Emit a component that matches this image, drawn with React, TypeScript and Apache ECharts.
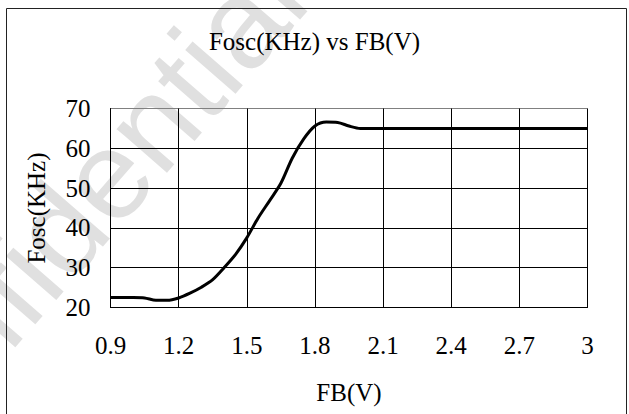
import React, { useEffect, useRef } from "react";
import * as echarts from "echarts";

const titleText = "Fosc(KHz) vs FB(V)";
const xName = "FB(V)";
const yName = "Fosc(KHz)";
const watermark = "Confidential";

const fbVolts = [0.9, 1.0, 1.05, 1.1, 1.15, 1.2, 1.25, 1.3, 1.35, 1.4, 1.45, 1.5, 1.55, 1.6, 1.65, 1.7, 1.75, 1.8, 1.85, 1.9, 1.95, 2.0, 2.5, 3.0];
const foscKHz = [22.5, 22.5, 22.4, 21.8, 21.8, 22.4, 23.6, 25.1, 27.0, 30.0, 33.3, 37.5, 42.5, 46.8, 51.2, 57.5, 62.3, 65.6, 66.6, 66.5, 65.6, 65.0, 65.0, 65.0];

const xTicks = [0.9, 1.2, 1.5, 1.8, 2.1, 2.4, 2.7, 3.0];
const yTicks = [20, 30, 40, 50, 60, 70];

const SERIF = "'Liberation Serif', 'Times New Roman', serif";

export default function App() {
  const ref = useRef<HTMLDivElement>(null);
  useEffect(() => {
    if (!ref.current) return;
    const chart = echarts.init(ref.current, undefined, { renderer: "svg" });
    const data = fbVolts.map((x, i) => [x, foscKHz[i]]);
    chart.setOption({
      animation: false,
      backgroundColor: "#fff",
      title: {
        text: titleText,
        left: "center",
        top: 24,
        textStyle: { fontFamily: SERIF, fontSize: 25, fontWeight: "normal", color: "#000" },
      },
      graphic: [
        {
          type: "text",
          x: -109,
          y: 520,
          rotation: 0.855,
          z: -10,
          silent: true,
          style: {
            text: watermark,
            font: "126px 'Liberation Sans', Arial, sans-serif",
            fill: "#e0e0e0",
            verticalAlign: "bottom",
            align: "left",
          },
        },
        {
          type: "rect",
          z: 10,
          silent: true,
          shape: { x: 6.5, y: 8.5, width: 620, height: 420 },
          style: { fill: "none", stroke: "#222", lineWidth: 1 },
        },
      ],
      grid: { left: 110.5, right: 41.5, top: 108.5, bottom: 106.5, containLabel: false },
      xAxis: {
        type: "value",
        min: xTicks[0],
        max: xTicks[xTicks.length - 1],
        interval: 0.3,
        name: xName,
        nameLocation: "middle",
        nameGap: 72,
        nameTextStyle: { fontFamily: SERIF, fontSize: 25, color: "#000" },
        axisLine: { show: true, lineStyle: { color: "#000", width: 1 } },
        axisTick: { show: false },
        axisLabel: { fontFamily: SERIF, fontSize: 25, color: "#000", margin: 25 },
        splitLine: { show: true, lineStyle: { color: "#000", width: 1 } },
      },
      yAxis: {
        type: "value",
        min: yTicks[0],
        max: yTicks[yTicks.length - 1],
        interval: 10,
        name: yName,
        nameLocation: "middle",
        nameGap: 62,
        nameRotate: 90,
        nameTextStyle: { fontFamily: SERIF, fontSize: 25, color: "#000" },
        axisLine: { show: true, lineStyle: { color: "#000", width: 1 } },
        axisTick: { show: false },
        axisLabel: { fontFamily: SERIF, fontSize: 25, color: "#000", margin: 20 },
        splitLine: {
          show: true,
          lineStyle: { color: ["#000", "#000", "#000", "#000", "#000", "#808080"], width: 1 },
        },
      },
      series: [
        {
          type: "line",
          data,
          showSymbol: false,
          smooth: 0.3,
          lineStyle: { color: "#000", width: 3 },
          z: 3,
        },
      ],
    });
    return () => chart.dispose();
  }, []);
  return (
    <div
      ref={ref}
      style={{ position: "fixed", left: 0, top: 0, width: 629, height: 414 }}
    />
  );
}
